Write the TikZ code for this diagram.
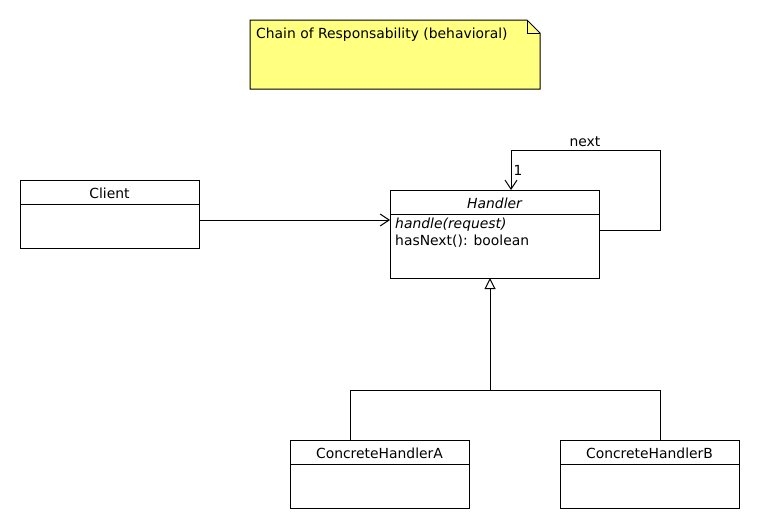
\documentclass[tikz,border=0pt]{standalone}
\usepackage{fontspec}
\setmainfont{DejaVu Sans}
\usetikzlibrary{arrows.meta}
\definecolor{notefill}{RGB}{255,255,128}
\begin{document}
\begin{tikzpicture}[x=1pt,y=-1pt,
  every node/.style={font=\fontsize{13.9}{16}\selectfont, inner sep=0pt},
  classbox/.style={draw, line width=1pt, fill=white, anchor=north west, outer sep=0pt, minimum width=#1},
  classbox/.default=179pt,
  lbl/.style={anchor=base},
  attr/.style={anchor=base west},
  conn/.style={line width=1pt},
  assoc/.style={conn, -{Straight Barb[length=9pt,width=12pt,line width=1pt]}},
  inherit/.style={conn, -{Triangle[open,length=11pt,width=11pt,line width=1pt,fill=white]}}
]
\useasboundingbox (0,0) rectangle (760,530);
% note
\draw[line width=1pt, fill=notefill] (250,20) -- (527,20) -- (540,33) -- (540,89) -- (250,89) -- cycle;
\draw[line width=1pt] (527,20) -- (527,33) -- (540,33);
\node[attr] (notetext) at (256,38) {Chain of Responsability (behavioral)};

% Client
\node[classbox, minimum height=68pt] (client) at (20,180) {};
\draw[conn] (20,204) -- (199,204);
\node[lbl] (clientname) at (109.5,198) {Client};

% Handler
\node[classbox=209pt, minimum height=88pt] (handler) at (390,190) {};
\draw[conn] (390,214) -- (599,214);
\node[lbl] (handlername) at (494.5,208) {\itshape Handler};
\node[attr] (op1) at (395,228) {\itshape handle(request)};
\node[attr] (op2) at (395,245) {hasNext(): boolean};

% Concrete handlers
\node[classbox, minimum height=68pt] (cha) at (290,440) {};
\draw[conn] (290,464) -- (469,464);
\node[lbl] (chaname) at (379.5,458) {ConcreteHandlerA};

\node[classbox, minimum height=68pt] (chb) at (560,440) {};
\draw[conn] (560,464) -- (739,464);
\node[lbl] (chbname) at (649.5,458) {ConcreteHandlerB};

% Client -> Handler
\coordinate (assocy) at (300,220);
\draw[assoc] (client.east |- assocy) -- (handler.west |- assocy);

% self association
\coordinate (loopa) at (660,230);
\coordinate (loopb) at (511,150);
\draw[assoc] (handler.east |- loopa) -- (loopa) |- (loopb) -- (loopb |- handler.north);
\node[lbl] (nextlbl) at (585,146) {next};
\node[lbl] (multlbl) at (518,175) {1};

% inheritance
\coordinate (join) at (490,390);
\draw[inherit] (join) -- (join |- handler.south);
\draw[conn] (join) -| (cha.north -| 350,0);
\draw[conn] (join) -| (chb.north -| 660,0);
\end{tikzpicture}
\end{document}
